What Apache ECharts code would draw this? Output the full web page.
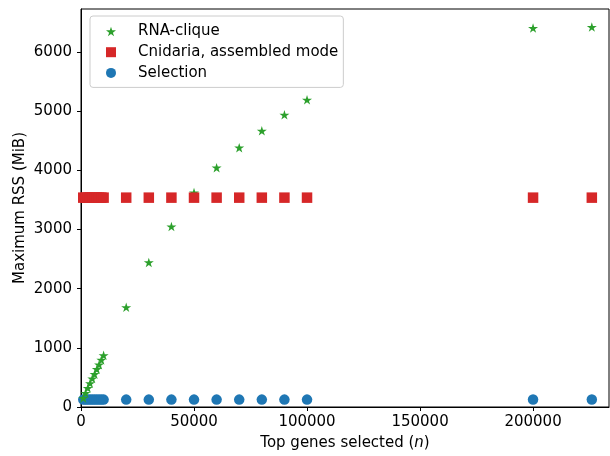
<!DOCTYPE html>
<html><head><meta charset="utf-8">
<script src="https://cdn.jsdelivr.net/npm/echarts@6/dist/echarts.min.js"></script>
<style>html,body{margin:0;padding:0;background:#fff}#c{width:610px;height:456px}</style>
</head><body><div id="c"></div>
<script>
const xValues = [1000,2000,3000,4000,5000,6000,7000,8000,9000,10000,20000,30000,40000,50000,60000,70000,80000,90000,100000,200000,226000];
const rnaClique = [150,235,320,400,480,555,640,715,795,875,1686,2445,3052,3626,4047,4384,4671,4941,5194,6408,6425];
const cnidaria = [3540,3540,3540,3540,3540,3540,3540,3540,3540,3540,3540,3540,3540,3540,3540,3540,3540,3540,3540,3540,3540];
const selection = [125,125,125,125,125,125,125,125,125,125,125,125,125,125,125,125,125,125,125,128,128];
const seriesNames = ['RNA-clique','Cnidaria, assembled mode','Selection'];

const star = 'path://M0,-100 L22,-31 L95,-31 L36,12 L59,81 L0,38 L-59,81 L-36,12 L-95,-31 L-22,-31 Z';
const font = 'DejaVu Sans';
const fs = 15;
const pts = ys => xValues.map((x,i)=>[x, ys[i]]);
const plain = v => String(v);

const chart = echarts.init(document.getElementById('c'), null, {renderer:'canvas'});
chart.setOption({
  animation:false,
  textStyle:{fontFamily:font},
  grid:{left:81, top:9, right:1, bottom:48, show:true, borderColor:'#000', borderWidth:1},
  legend:{
    data:[{name:seriesNames[0], icon:star},{name:seriesNames[1], icon:'rect'},{name:seriesNames[2], icon:'circle'}],
    orient:'vertical', left:90, top:16,
    itemWidth:10, itemHeight:10, itemGap:5.7,
    padding:[8,5,7,16],
    borderColor:'#cccccc', borderWidth:1, borderRadius:3,
    backgroundColor:'rgba(255,255,255,0.8)',
    textStyle:{fontFamily:font, fontSize:fs, color:'#000', padding:[0,0,0,17]}
  },
  xAxis:{
    type:'value', min:0, max:233600, interval:50000,
    name:'Top genes selected ({i|n})', nameLocation:'middle', nameGap:29, nameMoveOverlap:false,
    nameTextStyle:{fontFamily:font, fontSize:fs, color:'#000', rich:{i:{fontFamily:font, fontSize:fs, fontStyle:'italic', color:'#000'}}},
    axisLine:{show:true, onZero:false, lineStyle:{color:'#000', width:1}},
    axisTick:{show:true, length:4, lineStyle:{color:'#000'}},
    axisLabel:{fontFamily:font, fontSize:fs, color:'#000', margin:8, showMaxLabel:false, formatter:plain},
    splitLine:{show:false}
  },
  yAxis:{
    type:'value', min:0, max:6730, interval:1000,
    name:'Maximum RSS (MiB)', nameLocation:'middle', nameGap:53, nameMoveOverlap:false,
    nameTextStyle:{fontFamily:font, fontSize:fs, color:'#000'},
    axisLine:{show:true, onZero:false, lineStyle:{color:'#000', width:1}},
    axisTick:{show:true, length:4, lineStyle:{color:'#000'}},
    axisLabel:{fontFamily:font, fontSize:fs, color:'#000', margin:9, showMaxLabel:false, formatter:plain},
    splitLine:{show:false}
  },
  series:[
    {name:seriesNames[0], type:'scatter', data:pts(rnaClique), symbol:star, symbolSize:[10,9.5], itemStyle:{color:'#2ca02c', opacity:1}, z:3},
    {name:seriesNames[1], type:'scatter', data:pts(cnidaria), symbol:'rect', symbolSize:10.5, itemStyle:{color:'#d62728', opacity:1}, z:4},
    {name:seriesNames[2], type:'scatter', data:pts(selection), symbol:'circle', symbolSize:10.5, itemStyle:{color:'#1f77b4', opacity:1}, z:2}
  ]
});
</script></body></html>
